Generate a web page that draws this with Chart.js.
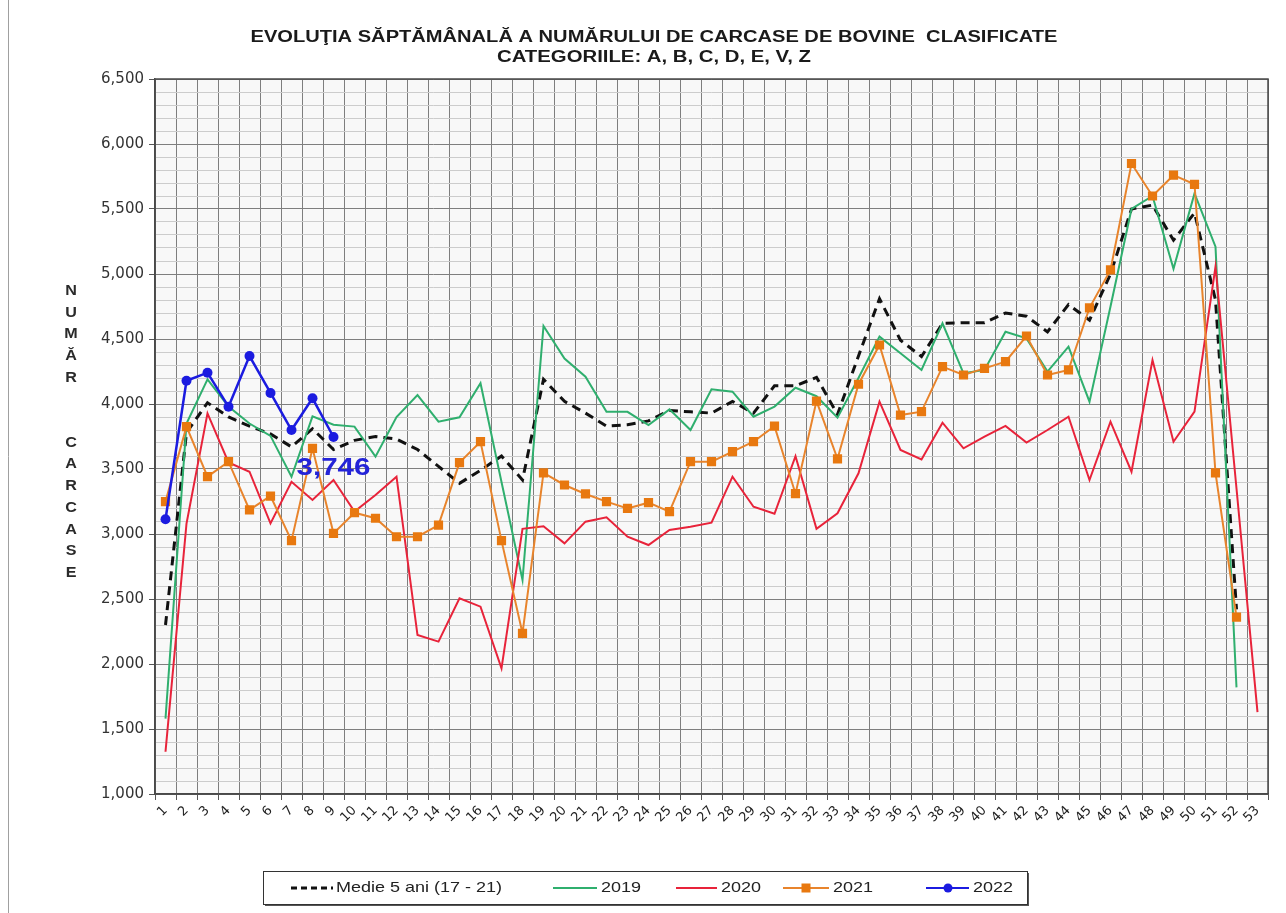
<!DOCTYPE html>
<html><head><meta charset="utf-8">
<script src="https://cdn.jsdelivr.net/npm/chart.js@4/dist/chart.umd.min.js"></script>
<style>html,body{margin:0;padding:0;background:#fff;overflow:hidden}canvas{display:block}</style>
</head><body>
<canvas id="c" width="1286" height="913"></canvas>
<script>
const weeks = ['1','2','3','4','5','6','7','8','9','10','11','12','13','14','15','16','17','18','19','20','21','22','23','24','25','26','27','28','29','30','31','32','33','34','35','36','37','38','39','40','41','42','43','44','45','46','47','48','49','50','51','52','53'];

const medie5 = [2300,3780,4010,3900,3830,3770,3670,3810,3650,3720,3750,3730,3650,3520,3390,3490,3600,3415,4190,4020,3930,3830,3840,3870,3950,3940,3930,4020,3930,4140,4140,4205,3920,4370,4810,4490,4365,4620,4625,4625,4700,4675,4555,4765,4645,5000,5500,5530,5260,5470,4800,2420,null];
const y2019 = [1580,3850,4190,3980,3850,3755,3440,3905,3840,3826,3595,3900,4069,3864,3898,4160,3400,2646,4600,4350,4210,3940,3940,3838,3959,3800,4113,4095,3902,3980,4125,4060,3895,4200,4518,4390,4262,4621,4236,4262,4556,4505,4249,4441,4018,4750,5500,5600,5040,5620,5210,1820,null];
const y2020 = [1325,3080,3928,3550,3479,3082,3402,3262,3415,3172,3300,3441,2223,2172,2505,2441,1967,3040,3060,2928,3095,3128,2979,2915,3031,3056,3087,3441,3210,3156,3598,3040,3159,3467,4018,3646,3574,3856,3659,3749,3831,3703,3800,3902,3415,3864,3479,4338,3710,3941,5056,3350,1630];
const y2021 = [3249,3826,3441,3556,3185,3292,2949,3659,3005,3164,3121,2979,2979,3069,3549,3710,2949,2236,3470,3377,3308,3249,3197,3241,3172,3556,3556,3633,3710,3830,3310,4022,3578,4152,4454,3915,3941,4287,4223,4274,4326,4523,4223,4262,4740,5031,5850,5600,5760,5690,3470,2360,null];
const y2022 = [3113,4179,4241,3979,4369,4085,3800,4044,3746,null,null,null,null,null,null,null,null,null,null,null,null,null,null,null,null,null,null,null,null,null,null,null,null,null,null,null,null,null,null,null,null,null,null,null,null,null,null,null,null,null,null,null,null];

const seriesNames = ['Medie 5 ani (17 - 21)','2019','2020','2021','2022'];
const titleLines = ['EVOLUŢIA SĂPTĂMÂNALĂ A NUMĂRULUI DE CARCASE DE BOVINE  CLASIFICATE','CATEGORIILE: A, B, C, D, E, V, Z'];
const yTitleLetters = ['N','U','M','Ă','R','','','C','A','R','C','A','S','E'];
const yMin = 1000, yMax = 6500, yMinorStep = 100, yMajorStep = 500;

const colMedie = '#111111', col2019 = '#2faf6e', col2020 = '#e8233a', col2021 = '#e8842c', col2021m = '#e8780f', col2022 = '#1b1be0';

function fitText(ctx, text, x, y, font, targetW, color, align) {
  ctx.save();
  ctx.font = font;
  ctx.fillStyle = color;
  ctx.textBaseline = 'middle';
  const w = ctx.measureText(text).width;
  const s = targetW ? targetW / w : 1;
  ctx.translate(x, y);
  ctx.scale(s, 1);
  ctx.textAlign = align || 'center';
  ctx.fillText(text, 0, 0);
  ctx.restore();
}
function scaledText(ctx, text, x, y, font, sx, color, align) {
  ctx.save();
  ctx.font = font; ctx.fillStyle = color; ctx.textBaseline = 'middle';
  ctx.textAlign = align || 'left';
  ctx.translate(x, y); ctx.scale(sx, 1);
  ctx.fillText(text, 0, 0);
  ctx.restore();
}

const decor = {
  id: 'decor',
  beforeDraw(chart) {
    const {ctx, chartArea: a} = chart;
    ctx.save();
    ctx.fillStyle = '#ffffff';
    ctx.fillRect(0, 0, chart.width, chart.height);
    ctx.fillStyle = '#f8f8f8';
    ctx.fillRect(a.left, a.top, a.right - a.left, a.bottom - a.top);
    ctx.restore();
  },
  afterDatasetsDraw(chart) {
    const {ctx} = chart;
    const meta = chart.getDatasetMeta(4);
    let last = -1;
    y2022.forEach((v, i) => { if (v !== null) last = i; });
    const pt = meta.data[last];
    scaledText(ctx, y2022[last].toLocaleString('en-US'), pt.x, pt.y + 31, 'bold 24px "Liberation Sans", Arial, sans-serif', 1.23, '#2323d8', 'center');
  },
  afterDraw(chart) {
    const {ctx, chartArea: a} = chart;
    ctx.save();
    ctx.strokeStyle = '#4a4a4a'; ctx.lineWidth = 1.5;
    ctx.strokeRect(a.left, a.top, a.right - a.left, a.bottom - a.top);
    ctx.strokeStyle = '#a0a0a0'; ctx.lineWidth = 1;
    ctx.beginPath(); ctx.moveTo(8.5, 0); ctx.lineTo(8.5, 913); ctx.stroke();
    ctx.restore();
    fitText(ctx, titleLines[0], 654, 38, 'bold 16px "Liberation Sans", Arial, sans-serif', 807, '#1a1a1a');
    fitText(ctx, titleLines[1], 654, 58, 'bold 16px "Liberation Sans", Arial, sans-serif', 314, '#1a1a1a');
    yTitleLetters.forEach((ch, i) => {
      if (ch) scaledText(ctx, ch, 71, 291 + i * 21.7, 'bold 14px "Liberation Sans", Arial, sans-serif', 1.15, '#2a2a2a', 'center');
    });
    ctx.save();
    const bx = 263, by = 871, bw = 764, bh = 33, my = 888;
    ctx.fillStyle = '#555'; ctx.fillRect(bx + 2, by + 2, bw, bh);
    ctx.fillStyle = '#fff'; ctx.fillRect(bx, by, bw, bh);
    ctx.strokeStyle = '#333'; ctx.lineWidth = 1; ctx.strokeRect(bx + 0.5, by + 0.5, bw, bh);
    const font = '15px "Liberation Sans", Arial, sans-serif';
    ctx.strokeStyle = colMedie; ctx.lineWidth = 3; ctx.setLineDash([6, 4]);
    ctx.beginPath(); ctx.moveTo(291, my); ctx.lineTo(333, my); ctx.stroke();
    ctx.setLineDash([]);
    scaledText(ctx, seriesNames[0], 336, my, font, 1.2, '#222');
    ctx.strokeStyle = col2019; ctx.lineWidth = 2;
    ctx.beginPath(); ctx.moveTo(553, my); ctx.lineTo(597, my); ctx.stroke();
    scaledText(ctx, seriesNames[1], 601, my, font, 1.2, '#222');
    ctx.strokeStyle = col2020; ctx.lineWidth = 2;
    ctx.beginPath(); ctx.moveTo(676, my); ctx.lineTo(717, my); ctx.stroke();
    scaledText(ctx, seriesNames[2], 721, my, font, 1.2, '#222');
    ctx.strokeStyle = col2021; ctx.lineWidth = 2;
    ctx.beginPath(); ctx.moveTo(783, my); ctx.lineTo(829, my); ctx.stroke();
    ctx.fillStyle = col2021m; ctx.fillRect(806 - 4.5, my - 4.5, 9, 9);
    scaledText(ctx, seriesNames[3], 833, my, font, 1.2, '#222');
    ctx.strokeStyle = col2022; ctx.lineWidth = 2;
    ctx.beginPath(); ctx.moveTo(926, my); ctx.lineTo(969, my); ctx.stroke();
    ctx.fillStyle = col2022; ctx.beginPath(); ctx.arc(948, my, 4.5, 0, Math.PI * 2); ctx.fill();
    scaledText(ctx, seriesNames[4], 973, my, font, 1.2, '#222');
    ctx.restore();
  }
};

const common = {tension: 0, fill: false, spanGaps: false};

new Chart(document.getElementById('c'), {
  type: 'line',
  data: {
    labels: weeks,
    datasets: [
      Object.assign({label: seriesNames[0], data: medie5, borderColor: colMedie, borderWidth: 3, borderDash: [9, 6], pointRadius: 0, order: 5}, common),
      Object.assign({label: seriesNames[1], data: y2019, borderColor: col2019, borderWidth: 2, pointRadius: 0, order: 4}, common),
      Object.assign({label: seriesNames[2], data: y2020, borderColor: col2020, borderWidth: 2, pointRadius: 0, order: 3}, common),
      Object.assign({label: seriesNames[3], data: y2021, borderColor: col2021, borderWidth: 2, pointStyle: 'rect', pointRadius: 6.5, pointBackgroundColor: col2021m, pointBorderColor: col2021m, pointBorderWidth: 0, order: 2}, common),
      Object.assign({label: seriesNames[4], data: y2022, borderColor: col2022, borderWidth: 2.5, pointStyle: 'circle', pointRadius: 5, pointBackgroundColor: col2022, pointBorderColor: col2022, pointBorderWidth: 0, order: 1}, common)
    ]
  },
  options: {
    responsive: false,
    animation: false,
    devicePixelRatio: 1,
    layout: {padding: {top: 79, right: 18, left: 0, bottom: 0}},
    plugins: {legend: {display: false}, title: {display: false}, tooltip: {enabled: false}},
    scales: {
      x: {
        type: 'category',
        offset: true,
        grid: {offset: true, color: '#7e7e7e', lineWidth: 1, tickLength: 6, tickColor: '#555', drawOnChartArea: true},
        border: {color: '#4a4a4a', width: 1.5},
        ticks: {autoSkip: false, maxRotation: 45, minRotation: 45, padding: 3, color: '#222', font: {family: '"DejaVu Sans", sans-serif', size: 13}},
        afterFit(scale) { scale.height = 119; }
      },
      y: {
        min: yMin, max: yMax,
        grid: {
          color: c => (c.tick && c.tick.value % yMajorStep === 0) ? '#7e7e7e' : '#cccccc',
          tickColor: c => (c.tick && c.tick.value % yMajorStep === 0) ? '#555' : 'rgba(0,0,0,0)',
          tickLength: 6, lineWidth: 1
        },
        border: {color: '#4a4a4a', width: 1.5},
        ticks: {
          stepSize: yMinorStep, maxTicksLimit: 100, autoSkip: false, padding: 5,
          color: '#333', font: {family: '"DejaVu Sans", sans-serif', size: 15},
          callback: v => (v % yMajorStep === 0) ? Number(v).toLocaleString('en-US') : ''
        },
        afterFit(scale) { scale.width = 155; }
      }
    }
  },
  plugins: [decor]
});
</script>
</body></html>
